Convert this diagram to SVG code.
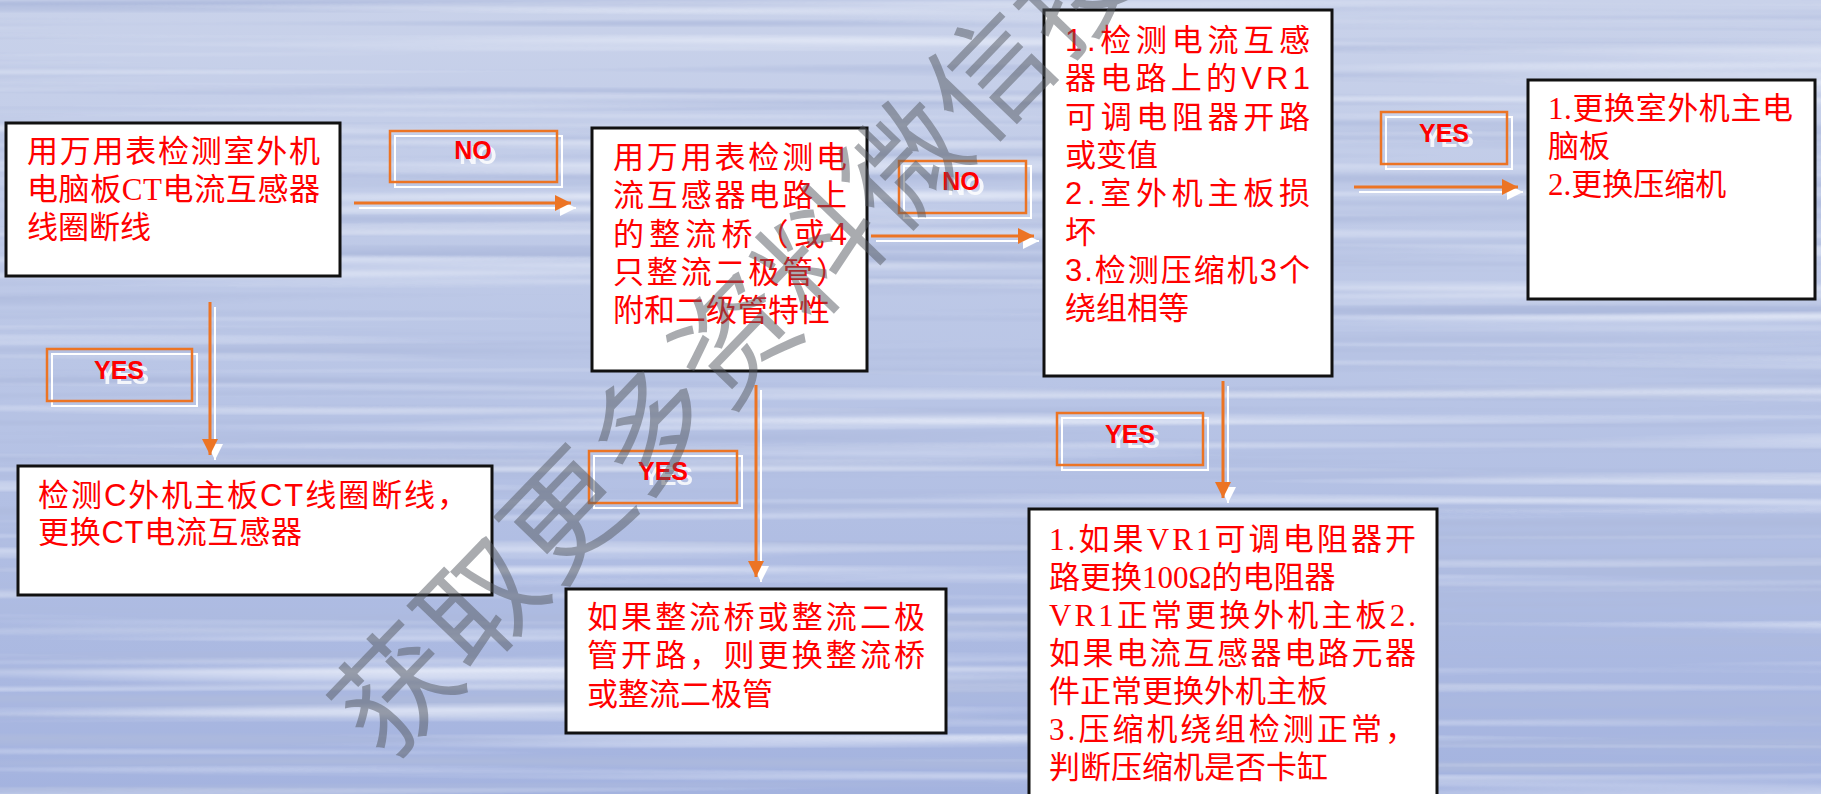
<svg xmlns="http://www.w3.org/2000/svg" width="1821" height="794" viewBox="0 0 1821 794">
<defs>
<linearGradient id="bg" x1="0" y1="0" x2="0" y2="1">
<stop offset="0" stop-color="#c9d2ea"/>
<stop offset="0.45" stop-color="#bac6e6"/>
<stop offset="1" stop-color="#a4b3df"/>
</linearGradient>
<filter id="dark" filterUnits="userSpaceOnUse" x="0" y="0" width="1821" height="794">
<feTurbulence type="fractalNoise" baseFrequency="0.0008 0.075" numOctaves="2" seed="4"/>
<feColorMatrix type="matrix" values="0 0 0 0 0.42  0 0 0 0 0.49  0 0 0 0 0.72  2.8 0 0 0 -1.3"/>
</filter>
<filter id="light" filterUnits="userSpaceOnUse" x="0" y="0" width="1821" height="794">
<feTurbulence type="fractalNoise" baseFrequency="0.0008 0.075" numOctaves="2" seed="11"/>
<feColorMatrix type="matrix" values="0 0 0 0 0.88  0 0 0 0 0.91  0 0 0 0 0.98  0 1.9 0 0 -0.98"/>
</filter>
<marker id="ah" viewBox="0 0 16 16" refX="16" refY="8" markerWidth="16" markerHeight="16" markerUnits="userSpaceOnUse" orient="auto">
<path d="M0,0 L16,8 L0,16 z" fill="#ec7424"/>
</marker>
<marker id="ahw" viewBox="0 0 16 16" refX="16" refY="8" markerWidth="16" markerHeight="16" markerUnits="userSpaceOnUse" orient="auto">
<path d="M0,0 L16,8 L0,16 z" fill="#ffffff"/>
</marker>
</defs>
<style>
.box{fill:#fff;stroke:#111;stroke-width:3}
.t{fill:#ff0000;font-size:31px}
.sans{font-family:"Liberation Sans","Noto Sans CJK SC",sans-serif}
.serif{font-family:"Liberation Serif","Noto Sans CJK SC",serif}
.lo{fill:none;stroke:#ec7424;stroke-width:2.5}
.lw{fill:none;stroke:#ffffff;stroke-width:2}
.lt{font-family:"Liberation Sans",Arial,sans-serif;font-weight:bold;font-size:25px;text-anchor:middle}
.ltr{fill:#ff0000}
.ltw{fill:#ffffff;opacity:0.85}
.co{stroke:#ec7424;stroke-width:3;fill:none}
.cw{stroke:#ffffff;stroke-width:2;fill:none}
.wm{font-family:"Noto Sans CJK SC",sans-serif;font-size:120px;fill:#555a62;opacity:0.5}
</style>

<g id="background">
<rect width="1821" height="794" fill="url(#bg)"/>
<rect width="1821" height="794" fill="#000" filter="url(#dark)"/>
<rect width="1821" height="794" fill="#000" filter="url(#light)"/>
</g>

<g id="connectors">
<line class="cw" x1="359" y1="208" x2="576" y2="208" marker-end="url(#ahw)"/>
<line class="co" x1="354" y1="203" x2="571" y2="203" marker-end="url(#ah)"/>
<line class="cw" x1="876" y1="241" x2="1039" y2="241" marker-end="url(#ahw)"/>
<line class="co" x1="871" y1="236" x2="1034" y2="236" marker-end="url(#ah)"/>
<line class="cw" x1="1359" y1="192" x2="1523" y2="192" marker-end="url(#ahw)"/>
<line class="co" x1="1354" y1="187" x2="1518" y2="187" marker-end="url(#ah)"/>
<line class="cw" x1="215" y1="307" x2="215" y2="460" marker-end="url(#ahw)"/>
<line class="co" x1="210" y1="302" x2="210" y2="455" marker-end="url(#ah)"/>
<line class="cw" x1="761" y1="390" x2="761" y2="582" marker-end="url(#ahw)"/>
<line class="co" x1="756" y1="385" x2="756" y2="577" marker-end="url(#ah)"/>
<line class="cw" x1="1228" y1="386" x2="1228" y2="503" marker-end="url(#ahw)"/>
<line class="co" x1="1223" y1="381" x2="1223" y2="498" marker-end="url(#ah)"/>

<g id="label-no1">
<rect class="lw" x="395" y="136" width="167" height="51"/>
<rect class="lo" x="390" y="131" width="167" height="51"/>
<text class="lt ltw" x="478" y="164">NO</text>
<text class="lt ltr" x="473" y="159">NO</text>
</g>
<g id="label-no2">
<rect class="lw" x="904" y="166" width="127" height="52"/>
<rect class="lo" x="899" y="161" width="127" height="52"/>
<text class="lt ltw" x="966" y="195">NO</text>
<text class="lt ltr" x="961" y="190">NO</text>
</g>
<g id="label-yes3">
<rect class="lw" x="1386" y="117" width="126" height="52"/>
<rect class="lo" x="1381" y="112" width="126" height="52"/>
<text class="lt ltw" x="1449" y="147">YES</text>
<text class="lt ltr" x="1444" y="142">YES</text>
</g>
<g id="label-yes4">
<rect class="lw" x="52" y="354" width="145" height="52"/>
<rect class="lo" x="47" y="349" width="145" height="52"/>
<text class="lt ltw" x="124" y="384">YES</text>
<text class="lt ltr" x="119" y="379">YES</text>
</g>
<g id="label-yes5">
<rect class="lw" x="594" y="456" width="148" height="52"/>
<rect class="lo" x="589" y="451" width="148" height="52"/>
<text class="lt ltw" x="668" y="485">YES</text>
<text class="lt ltr" x="663" y="480">YES</text>
</g>
<g id="label-yes6">
<rect class="lw" x="1062" y="418" width="146" height="52"/>
<rect class="lo" x="1057" y="413" width="146" height="52"/>
<text class="lt ltw" x="1135" y="448">YES</text>
<text class="lt ltr" x="1130" y="443">YES</text>
</g>
</g>

<g id="node1">
<rect class="box" x="6" y="123" width="334" height="153"/>
<text class="t serif" x="27" y="162" textLength="293" lengthAdjust="spacing">用万用表检测室外机</text>
<text class="t serif" x="27" y="200" textLength="293" lengthAdjust="spacing">电脑板CT电流互感器</text>
<text class="t serif" x="27" y="238">线圈断线</text>
</g>

<g id="node2">
<rect class="box" x="592" y="128" width="275" height="243"/>
<text class="t sans" x="613" y="168" textLength="234" lengthAdjust="spacing">用万用表检测电</text>
<text class="t sans" x="613" y="206" textLength="234" lengthAdjust="spacing">流互感器电路上</text>
<text class="t sans" x="613" y="245" textLength="234" lengthAdjust="spacing">的整流桥（或4</text>
<text class="t sans" x="613" y="283" textLength="234" lengthAdjust="spacing">只整流二极管）</text>
<text class="t sans" x="613" y="321">附和二级管特性</text>
</g>

<g id="node3">
<rect class="box" x="1044" y="10" width="288" height="366"/>
<text class="t sans" x="1065" y="51" textLength="245" lengthAdjust="spacing">1.检测电流互感</text>
<text class="t sans" x="1065" y="89" textLength="245" lengthAdjust="spacing">器电路上的VR1</text>
<text class="t sans" x="1065" y="128" textLength="245" lengthAdjust="spacing">可调电阻器开路</text>
<text class="t sans" x="1065" y="166">或变值</text>
<text class="t sans" x="1065" y="204" textLength="245" lengthAdjust="spacing">2.室外机主板损</text>
<text class="t sans" x="1065" y="243">坏</text>
<text class="t sans" x="1065" y="281" textLength="245" lengthAdjust="spacing">3.检测压缩机3个</text>
<text class="t sans" x="1065" y="319">绕组相等</text>
</g>

<g id="node4">
<rect class="box" x="1528" y="80" width="287" height="219"/>
<text class="t serif" x="1548" y="119" textLength="245" lengthAdjust="spacing">1.更换室外机主电</text>
<text class="t serif" x="1548" y="157">脑板</text>
<text class="t serif" x="1548" y="195">2.更换压缩机</text>
</g>

<g id="node5">
<rect class="box" x="18" y="466" width="474" height="129"/>
<text class="t sans" x="38" y="506" textLength="430" lengthAdjust="spacing">检测C外机主板CT线圈断线，</text>
<text class="t sans" x="38" y="543" textLength="264" lengthAdjust="spacing">更换CT电流互感器</text>
</g>

<g id="node6">
<rect class="box" x="566" y="589" width="380" height="144"/>
<text class="t sans" x="587" y="628" textLength="338" lengthAdjust="spacing">如果整流桥或整流二极</text>
<text class="t sans" x="587" y="666" textLength="338" lengthAdjust="spacing">管开路，则更换整流桥</text>
<text class="t sans" x="587" y="705">或整流二极管</text>
</g>

<g id="node7">
<rect class="box" x="1029" y="509" width="408" height="300"/>
<text class="t serif" x="1049" y="550" textLength="367" lengthAdjust="spacing">1.如果VR1可调电阻器开</text>
<text class="t serif" x="1049" y="588">路更换100Ω的电阻器</text>
<text class="t serif" x="1049" y="626" textLength="367" lengthAdjust="spacing">VR1正常更换外机主板2.</text>
<text class="t serif" x="1049" y="664" textLength="367" lengthAdjust="spacing">如果电流互感器电路元器</text>
<text class="t serif" x="1049" y="702">件正常更换外机主板</text>
<text class="t serif" x="1049" y="740" textLength="367" lengthAdjust="spacing">3.压缩机绕组检测正常，</text>
<text class="t serif" x="1049" y="778">判断压缩机是否卡缸</text>
</g>

<g id="watermark" transform="translate(396,690) rotate(-46)">
<text class="wm" x="-60" y="44" letter-spacing="2">获取更多资料微信搜</text>
</g>
</svg>
